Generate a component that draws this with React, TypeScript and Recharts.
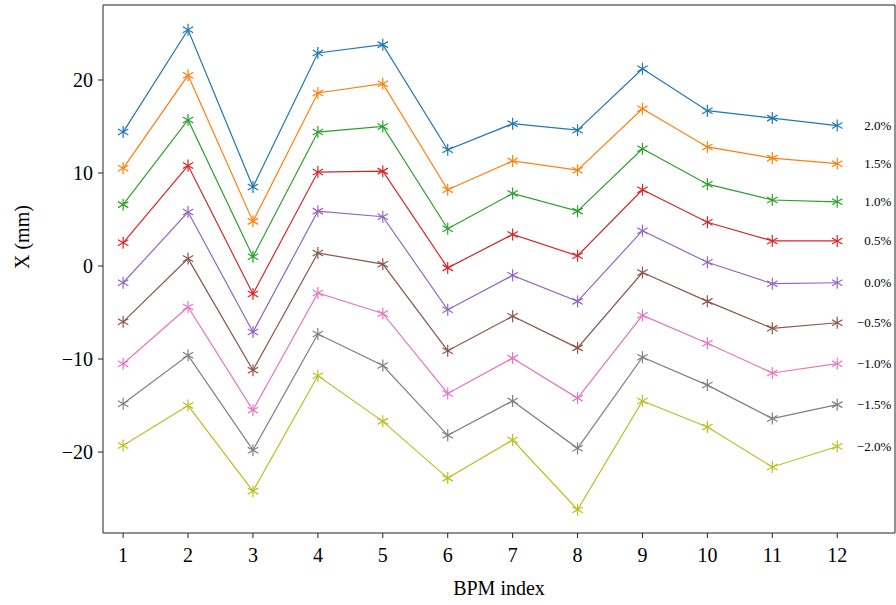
import { LineChart, Line, XAxis, YAxis, LabelList } from "recharts"

// BPM index along the x axis
const bpm = [1, 2, 3, 4, 5, 6, 7, 8, 9, 10, 11, 12]

// X (mm) per BPM, one list per energy offset
const dp20 = [14.4, 25.4, 8.5, 22.9, 23.8, 12.5, 15.3, 14.6, 21.2, 16.7, 15.9, 15.1]
const dp15 = [10.5, 20.5, 4.8, 18.6, 19.6, 8.2, 11.3, 10.3, 16.9, 12.8, 11.6, 11.0]
const dp10 = [6.6, 15.7, 1.0, 14.4, 15.0, 4.0, 7.8, 5.9, 12.6, 8.8, 7.1, 6.9]
const dp05 = [2.5, 10.8, -3.0, 10.1, 10.2, -0.2, 3.4, 1.1, 8.2, 4.7, 2.7, 2.7]
const dp00 = [-1.8, 5.8, -7.1, 5.9, 5.3, -4.7, -1.0, -3.8, 3.8, 0.4, -1.9, -1.8]
const dm05 = [-6.0, 0.8, -11.2, 1.4, 0.2, -9.1, -5.4, -8.8, -0.7, -3.8, -6.7, -6.1]
const dm10 = [-10.5, -4.4, -15.5, -2.9, -5.1, -13.7, -9.9, -14.2, -5.3, -8.3, -11.5, -10.5]
const dm15 = [-14.8, -9.6, -19.8, -7.3, -10.7, -18.2, -14.5, -19.6, -9.8, -12.8, -16.4, -14.9]
const dm20 = [-19.3, -15.0, -24.2, -11.8, -16.7, -22.8, -18.7, -26.2, -14.5, -17.3, -21.6, -19.4]

const offsetLabels = ["2.0%", "1.5%", "1.0%", "0.5%", "0.0%", "−0.5%", "−1.0%", "−1.5%", "−2.0%"]
const colors = ["#1f77b4", "#ff7f0e", "#2ca02c", "#d62728", "#9467bd", "#8c564b", "#e377c2", "#7f7f7f", "#bcbd22"]
const yTicks = [-20, -10, 0, 10, 20]

const allSeries = [dp20, dp15, dp10, dp05, dp00, dm05, dm10, dm15, dm20]

const data = bpm.map((b, i) => {
  const row: Record<string, number> = { bpm: b }
  allSeries.forEach((s, k) => {
    row["s" + k] = s[i]
  })
  return row
})

const fmt = (v: number) => (v < 0 ? "−" + Math.abs(v) : String(v))

// six-armed asterisk marker
const Asterisk = (props: any) => {
  const { cx, cy, stroke } = props
  if (cx == null || cy == null) return null
  const r = 6
  const arms = [90, 30, 150].map((a) => {
    const t = (a * Math.PI) / 180
    return [Math.cos(t) * r, Math.sin(t) * r]
  })
  return (
    <g>
      {arms.map(([dx, dy], i) => (
        <line key={i} x1={cx - dx} y1={cy - dy} x2={cx + dx} y2={cy + dy} stroke={stroke} strokeWidth={1.2} />
      ))}
    </g>
  )
}

const axisColor = "#222"
const font = "'Liberation Serif', 'DejaVu Serif', serif"

export default function App() {
  return (
    <div style={{ position: "absolute", left: 0, top: 0, background: "#fff" }}>
      <LineChart
        width={896}
        height={605}
        data={data}
        margin={{ top: 0, right: 0, bottom: 0, left: 0 }}
        style={{ fontFamily: font }}
      >
        <XAxis
          xAxisId="b"
          dataKey="bpm"
          type="number"
          domain={[0.69, 12.89]}
          ticks={bpm}
          allowDataOverflow
          height={72}
          tickSize={5}
          tickMargin={10}
          stroke={axisColor}
          tick={{ fill: "#000", fontSize: 20 }}
          label={{ value: "BPM index", position: "insideBottom", offset: 10, fill: "#000", fontSize: 20 }}
        />
        <XAxis
          xAxisId="t"
          orientation="top"
          dataKey="bpm"
          type="number"
          domain={[0.69, 12.89]}
          ticks={bpm}
          allowDataOverflow
          height={5}
          tickSize={5}
          tick={false}
          stroke={axisColor}
        />
        <YAxis
          yAxisId="l"
          type="number"
          domain={[-28.7, 28.06]}
          ticks={yTicks}
          allowDataOverflow
          width={103}
          tickSize={5}
          tickMargin={5}
          tickFormatter={fmt}
          stroke={axisColor}
          tick={{ fill: "#000", fontSize: 20 }}
          label={{ value: "X (mm)", angle: -90, position: "insideLeft", offset: 22, fill: "#000", fontSize: 20 }}
        />
        <YAxis yAxisId="r" orientation="right" width={1} tick={false} tickLine={false} stroke={axisColor} />
        {allSeries.map((_, k) => (
          <Line
            key={k}
            xAxisId="b"
            yAxisId="l"
            dataKey={"s" + k}
            stroke={colors[k]}
            strokeWidth={1.2}
            dot={<Asterisk />}
            activeDot={false}
            isAnimationActive={false}
          >
            <LabelList
              dataKey={"s" + k}
              content={(p: any) =>
                p.index === bpm.length - 1 ? (
                  <text
                    x={p.x + 54}
                    y={p.y}
                    textAnchor="end"
                    dominantBaseline="central"
                    fontSize={13}
                    fill="#000"
                    fontFamily={font}
                  >
                    {offsetLabels[k]}
                  </text>
                ) : null
              }
            />
          </Line>
        ))}
      </LineChart>
    </div>
  )
}
